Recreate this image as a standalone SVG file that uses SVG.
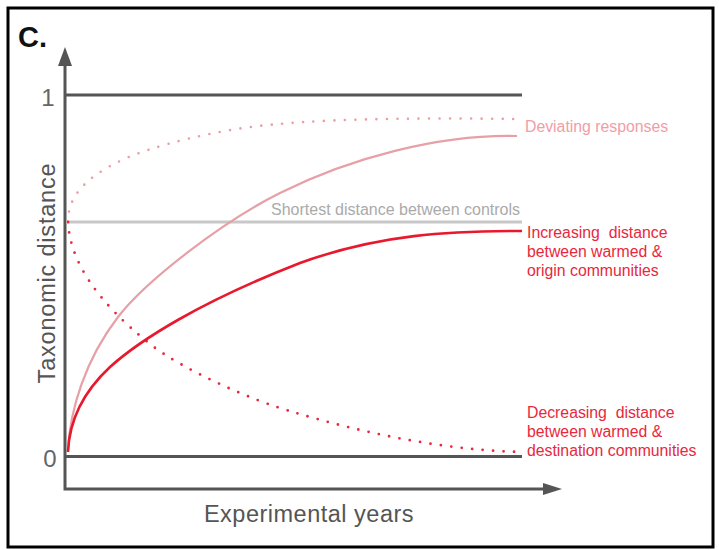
<svg xmlns="http://www.w3.org/2000/svg" width="719" height="550" viewBox="0 0 719 550">
<style>
text{font-family:"Liberation Sans",Arial,sans-serif}
.ax{stroke:#555;stroke-width:3;fill:none}
.lvl{stroke:#555;stroke-width:3}
.lab{font-size:15.8px}
.red{fill:#e8283c}
.pink{fill:#ef9ea6}
.dot{fill:none;stroke-linecap:round;stroke-dasharray:0 10.5}
</style>
<rect x="0" y="0" width="719" height="550" fill="#fff"/>
<rect x="8" y="8" width="705" height="539" fill="#fff" stroke="#000" stroke-width="3"/>
<text x="18" y="47" font-size="29" font-weight="bold" fill="#111">C.</text>
<g id="axes">
<polyline class="ax" points="65,56 65,489 552,489"/>
<path d="M58,66 L65,47 L72,66 Z" fill="#555"/>
<path d="M543,483 L562,489 L543,495 Z" fill="#555"/>
<text x="48" y="106" font-size="24" fill="#666" text-anchor="middle">1</text>
<text x="50" y="467" font-size="24" fill="#666" text-anchor="middle">0</text>
<text transform="translate(55,273) rotate(-90)" font-size="23.5" letter-spacing="0.8" fill="#555" text-anchor="middle">Taxonomic distance</text>
<text x="309" y="522" font-size="23.5" letter-spacing="0.5" fill="#555" text-anchor="middle">Experimental years</text>
</g>
<g id="levels">
<line class="lvl" x1="66" y1="95" x2="522" y2="95"/>
<line class="lvl" x1="66" y1="456.5" x2="522" y2="456.5"/>
<line x1="66" y1="222" x2="522" y2="222" stroke="#c8c8c8" stroke-width="3"/>
<text x="271" y="215" font-size="16" fill="#aaa">Shortest distance between controls</text>
</g>
<g id="curves" fill="none">
<path class="dot" d="M68,222 C68,200 80,180 122,160 C150,146.7 220,128 280,124 C340,118 440,118 517,119" stroke="#eb9ea4" stroke-width="2.6"/>
<path class="dot" d="M68,222 C70,260 95,300 150,344 C180,368 250,400 293,412 C360,432 440,450 522,452" stroke="#e8283c" stroke-width="2.8"/>
<path d="M68,450 C70,410 85,360 118,317 C145,282 220,223 280,193 C350,158 440,134 517,136" stroke="#e6a0a6" stroke-width="2.2"/>
<path d="M68,452 C69,425 80,395 110,367 C140,340 200,302 300,263 C380,234 450,231 522,231" stroke="#e8192c" stroke-width="2.6"/>
</g>
<g id="labels">
<text class="lab pink" x="525" y="132">Deviating responses</text>
<text class="lab red" x="527" y="238" xml:space="preserve">Increasing  distance</text>
<text class="lab red" x="527" y="257">between warmed &amp;</text>
<text class="lab red" x="527" y="276">origin communities</text>
<text class="lab red" x="527" y="418" xml:space="preserve">Decreasing  distance</text>
<text class="lab red" x="527" y="437">between warmed &amp;</text>
<text class="lab red" x="527" y="456">destination communities</text>
</g>
</svg>
